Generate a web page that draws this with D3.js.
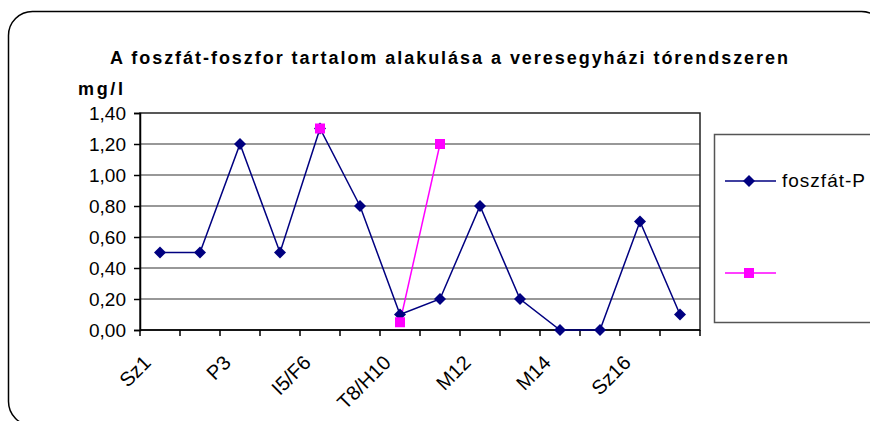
<!DOCTYPE html>
<html>
<head>
<meta charset="utf-8">
<script src="https://cdn.jsdelivr.net/npm/d3@7"></script>
<style>
  body { margin: 0; background: #fff; }
  svg { font-family: "Liberation Sans", Arial, sans-serif; }
</style>
</head>
<body>
<svg id="chart" width="870" height="421"></svg>
<script>
// sampling points along the lake system (only every other label is shown)
var categories = ["Sz1", "Sz2", "P3", "P4", "I5/F6", "F7", "T8/H10", "H11", "M12", "M13", "M14", "M15", "Sz16", "Sz17"];
var shownLabels = ["Sz1", "P3", "I5/F6", "T8/H10", "M12", "M14", "Sz16"];
// foszfát-P, mg/l
var foszfatP = [0.5, 0.5, 1.2, 0.5, 1.3, 0.8, 0.1, 0.2, 0.8, 0.2, 0.0, 0.0, 0.7, 0.1];
// second (unnamed) series, only a few values
var second = [null, null, null, null, 1.3, null, 0.05, 1.2, null, null, null, null, null, null];
var yTicks = [0, 0.2, 0.4, 0.6, 0.8, 1.0, 1.2, 1.4];

var svg = d3.select("#chart");

// outer rounded frame
svg.append("rect")
    .attr("x", 8.5).attr("y", 11.5)
    .attr("width", 877).attr("height", 414)
    .attr("rx", 24).attr("ry", 24)
    .attr("fill", "white")
    .attr("stroke", "black")
    .attr("stroke-width", 1.5);

var x = d3.scaleBand()
    .domain(categories)
    .range([140, 700]);

var y = d3.scaleLinear()
    .domain([0, 1.4])
    .range([330, 113]);

// gridlines
svg.selectAll(".grid")
    .data(yTicks.slice(1, -1))
    .enter().append("line")
    .attr("x1", 140).attr("x2", 700)
    .attr("y1", function(d) { return y(d); })
    .attr("y2", function(d) { return y(d); })
    .attr("stroke", "#333")
    .attr("stroke-width", 1.2);

// plot frame
svg.append("rect")
    .attr("x", 140).attr("y", y(1.4))
    .attr("width", 560).attr("height", y(0) - y(1.4))
    .attr("fill", "none")
    .attr("stroke", "#222")
    .attr("stroke-width", 1.5);

// y axis
var yAxis = d3.axisLeft(y)
    .tickValues(yTicks)
    .tickSize(6)
    .tickPadding(8)
    .tickFormat(function(d) { return d3.format(".2f")(d).replace(".", ","); });
var gy = svg.append("g").attr("transform", "translate(140,0)").call(yAxis);
gy.select(".domain").attr("stroke", "black").attr("stroke-width", 1.5);
gy.selectAll(".tick line").attr("stroke", "black").attr("stroke-width", 1.5);
gy.selectAll(".tick text")
    .attr("font-family", "Liberation Sans, Arial, sans-serif")
    .attr("font-size", 19)
    .attr("fill", "black");

// x axis with ticks at the band edges
var edges = categories.map(function(c) { return x(c); }).concat([700]);
svg.append("line")
    .attr("x1", 140).attr("x2", 700)
    .attr("y1", y(0)).attr("y2", y(0))
    .attr("stroke", "black").attr("stroke-width", 1.5);
svg.selectAll(".xtick")
    .data(edges)
    .enter().append("line")
    .attr("x1", function(d) { return d; })
    .attr("x2", function(d) { return d; })
    .attr("y1", y(0)).attr("y2", y(0) + 6)
    .attr("stroke", "black").attr("stroke-width", 1.5);

svg.selectAll(".xlabel")
    .data(shownLabels)
    .enter().append("text")
    .attr("transform", function(d) {
        var cx = x(d) + x.bandwidth() / 2;
        return "translate(" + (cx - 8) + "," + 364 + ") rotate(-45)";
    })
    .attr("text-anchor", "end")
    .attr("font-size", 20)
    .text(function(d) { return d; });

// series lines
var line = d3.line()
    .defined(function(d) { return d != null; })
    .x(function(d, i) { return x(categories[i]) + x.bandwidth() / 2; })
    .y(function(d) { return y(d); });

svg.append("path")
    .datum(foszfatP)
    .attr("d", line)
    .attr("fill", "none")
    .attr("stroke", "#000080")
    .attr("stroke-width", 1.5);

svg.append("path")
    .datum(second)
    .attr("d", line)
    .attr("fill", "none")
    .attr("stroke", "#ff00ff")
    .attr("stroke-width", 1.5);

var diamond = "M0,-6L6,0L0,6L-6,0Z";

svg.selectAll(".dia")
    .data(foszfatP)
    .enter().append("path")
    .attr("d", diamond)
    .attr("transform", function(d, i) {
        return "translate(" + (x(categories[i]) + x.bandwidth() / 2) + "," + y(d) + ")";
    })
    .attr("fill", "#000080");

svg.selectAll(".sq")
    .data(second.map(function(v, i) { return {v: v, i: i}; }).filter(function(d) { return d.v != null; }))
    .enter().append("rect")
    .attr("x", function(d) { return x(categories[d.i]) + x.bandwidth() / 2 - 5; })
    .attr("y", function(d) { return y(d.v) - 5; })
    .attr("width", 10).attr("height", 10)
    .attr("fill", "#ff00ff");

// title and unit
svg.append("text")
    .attr("x", 110).attr("y", 64)
    .attr("font-size", 18)
    .attr("font-weight", "bold")
    .attr("textLength", 678)
    .attr("lengthAdjust", "spacing")
    .text("A foszfát-foszfor tartalom alakulása a veresegyházi tórendszeren");

svg.append("text")
    .attr("x", 78).attr("y", 95)
    .attr("font-size", 18)
    .attr("font-weight", "bold")
    .attr("textLength", 45)
    .attr("lengthAdjust", "spacing")
    .text("mg/l");

// legend
var legend = svg.append("g");
legend.append("rect")
    .attr("x", 714.5).attr("y", 134.5)
    .attr("width", 200).attr("height", 188)
    .attr("fill", "white")
    .attr("stroke", "#555")
    .attr("stroke-width", 1.5);

legend.append("line")
    .attr("x1", 725).attr("x2", 776).attr("y1", 181).attr("y2", 181)
    .attr("stroke", "#000080").attr("stroke-width", 1.5);
legend.append("path")
    .attr("d", diamond)
    .attr("transform", "translate(749,181)")
    .attr("fill", "#000080");
legend.append("text")
    .attr("x", 782).attr("y", 187)
    .attr("font-size", 19)
    .attr("textLength", 83)
    .attr("lengthAdjust", "spacing")
    .text("foszfát-P");

legend.append("line")
    .attr("x1", 725).attr("x2", 776).attr("y1", 273).attr("y2", 273)
    .attr("stroke", "#ff00ff").attr("stroke-width", 1.5);
legend.append("rect")
    .attr("x", 744).attr("y", 268)
    .attr("width", 10).attr("height", 10)
    .attr("fill", "#ff00ff");
</script>
</body>
</html>
